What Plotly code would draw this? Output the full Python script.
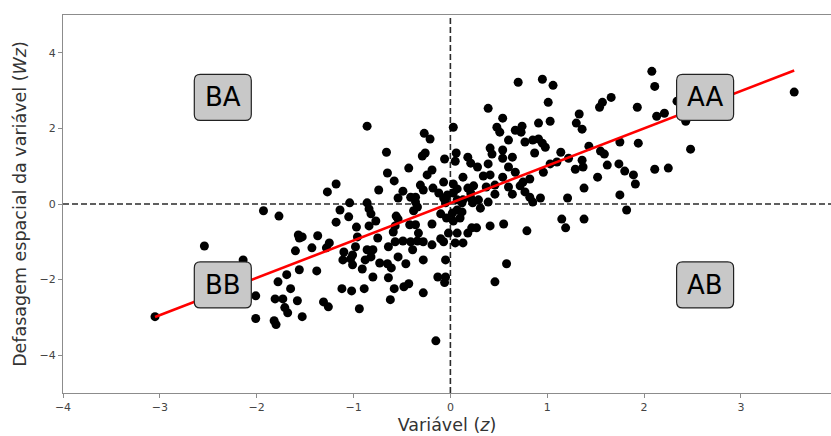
import plotly.graph_objects as go

# z values (Variável)
z = [
    -3.05, -2.54, -2.14, -2.01, -2.01, -1.93, -1.82, -1.81, -1.80, -1.78, -1.77, -1.73, -1.71, -1.69, -1.68, -1.65,
    -1.60, -1.58, -1.57, -1.56, -1.56,
    -0.86, -0.27, -0.21, 0.03, -0.66, -0.29, -0.26, -0.06, 0.06, 0.05, -0.43, -0.65, -0.19, -0.24, -0.58,
    -0.07, -1.18, -1.27, -0.74, -0.49, -0.31, -0.28, -0.18, -0.12, -0.03, -0.41, -0.36, -0.54, -0.05, -0.36,
    -0.34, -1.04, -0.86, -0.84, -0.82, -1.14, -0.38, -1.05, -0.56, -0.54, -0.57, -0.19, -1.18, -0.77, -0.42,
    -0.36, -0.84, -0.97, -0.10, -0.04, 0.02, 0.03, 0.07, 0.10, -0.59, -0.33, -0.02, 0.07, 0.18, -0.75,
    -0.57, -0.49, -0.41, -0.34, -0.28, -0.19, -0.64, -0.39, -1.10, -1.01, -0.86, -0.82, -1.11, -1.01, -1.03,
    -0.88, -0.73, -0.65, -0.61, -0.54, -0.91, -0.05, -0.80, -0.64, -0.13, -0.05, -0.06, -1.53, -1.37, -0.96,
    -0.10, -0.07, 0.05, 0.13, -1.43, -1.25, -1.28, -0.98, -0.80, -0.46, -0.28, -1.38, -1.12, -1.02, -0.89,
    -0.58, -0.48, -0.43, -0.28, -0.62, -1.31, -1.26, -0.94, -1.53, -0.15,
    0.18, 0.21, 0.28, 0.03, 0.13, 0.03, 0.07, 0.18, -0.07, -0.05, 0.07, 0.12, 0.21, 0.23, 0.31, 0.12,
    0.39, 0.34, 0.41, 0.37, 0.24, 0.21, 0.29, 0.39, 0.13,
    0.70, 0.95, 1.06, 1.01, 0.39, 0.54, 1.54, 1.57, 1.66, 0.91, 1.03, 1.33, 1.30, 1.36, 0.48, 0.51, 0.67,
    0.74, 0.73, 0.60, 0.77, 0.85, 0.91, 0.95, 0.98, 0.87, 1.14, 1.43, 1.55, 1.59, 1.75, 0.41, 0.43, 0.54,
    0.54, 0.64, 0.60, 0.67, 1.03, 1.10, 1.22, 1.36, 1.29, 1.37, 1.62, 1.74, 1.80, 1.89, 0.96, 0.54, 0.82,
    1.52, 0.46, 0.60, 0.72, 0.75, 1.38, 0.46, 0.64, 0.77, 0.82, 0.85, 0.93, 1.21, 1.75,
    2.08, 2.11, 3.55, 1.93, 2.34, 2.13, 2.21, 2.43, 1.94, 2.48, 2.11, 2.25, 1.91, 1.82,
    0.22, 0.27, 0.41, 0.55, 0.79, 1.15, 1.19, 1.38, 0.58, 0.46,
]

# Wz values (Defasagem espacial da variável)
wz = [
    -2.98, -1.11, -1.48, -2.43, -3.03, -0.18, -3.09, -2.51, -3.19, -2.06, -0.32, -2.51, -2.74, -1.87, -2.88, -2.24,
    -1.24, -2.56, -0.82, -0.90, -1.74,
    2.06, 1.87, 1.72, 2.03, 1.37, 1.27, 1.35, 1.19, 1.35, 1.13, 0.95, 0.82, 0.90, 0.77, 0.61,
    0.58, 0.53, 0.32, 0.37, 0.34, 0.50, 0.37, 0.42, 0.29, 0.24, 0.18, 0.18, 0.16, 0.13, 0.05,
    -0.08, 0.03, 0.03, -0.13, -0.26, -0.16, -0.18, -0.34, -0.32, -0.40, -0.58, -0.53, -0.48, -0.45, -0.55,
    -0.55, -0.58, -0.61, -0.26, -0.37, -0.24, -0.45, -0.16, -0.37, -0.74, -0.77, -0.77, -0.77, -0.77, -0.90,
    -1.00, -0.98, -1.00, -0.98, -1.00, -1.08, -1.13, -1.21, -1.27, -1.35, -1.21, -1.40, -1.48, -1.61, -1.45,
    -1.48, -1.56, -1.58, -1.69, -1.40, -1.72, -1.48, -1.93, -1.95, -1.93, -1.93, -2.08, -0.87, -0.84, -0.87,
    -0.92, -1.00, -1.03, -1.03, -1.16, -1.03, -1.16, -1.13, -1.21, -1.58, -1.48, -1.77, -2.24, -2.30, -2.24,
    -2.24, -2.19, -2.11, -2.35, -2.53, -2.59, -2.72, -2.77, -2.98, -3.62,
    1.24, 1.08, 0.98, 0.53, 0.71, 0.29, 0.40, 0.42, 0.16, 0.03, 0.11, 0.03, 0.16, 0.03, -0.11, -0.21,
    1.06, 0.74, 0.77, 0.45, 0.48, 0.29, 0.11, 0.05, 0.11,
    3.22, 3.30, 3.14, 2.69, 2.53, 2.27, 2.56, 2.69, 2.82, 2.14, 2.19, 2.38, 2.14, 1.98, 2.03, 1.90, 1.95,
    2.06, 1.90, 1.69, 1.64, 1.69, 1.72, 1.61, 1.50, 1.35, 1.37, 1.53, 1.40, 1.32, 1.64, 1.48, 1.32, 1.43,
    1.21, 1.24, 0.98, 0.84, 1.06, 1.11, 1.21, 1.16, 0.92, 0.98, 1.03, 1.06, 0.87, 0.77, 0.84, 0.71, 0.66,
    0.71, 0.50, 0.45, 0.48, 0.58, 0.42, 0.26, 0.26, 0.32, 0.18, 0.05, 0.16, 0.16, 0.24,
    3.51, 3.11, 2.96, 2.56, 2.72, 2.32, 2.40, 2.19, 1.61, 1.45, 0.92, 0.95, 0.53, -0.16,
    -0.63, -0.63, -0.58, -0.53, -0.71, -0.40, -0.63, -0.40, -1.58, -2.06,
]

# fitted line (slope = Moran's I, intercept)
slope = 0.988
intercept = 0.023

quadrants = ["BA", "AA", "BB", "AB"]
quad_x = [-2.35, 2.63, -2.35, 2.63]
quad_y = [2.82, 2.82, -2.14, -2.14]

x_range = [-4, 3.93]
y_range = [-5, 5]
x_ticks = [-4, -3, -2, -1, 0, 1, 2, 3]
y_ticks = [-4, -2, 0, 2, 4]

fig = go.Figure()

fig.add_trace(go.Scatter(
    x=z, y=wz, mode="markers",
    marker=dict(color="black", size=9, line=dict(width=0)),
    showlegend=False, hoverinfo="skip",
))

xmin, xmax = min(z), max(z)
fig.add_trace(go.Scatter(
    x=[xmin, xmax], y=[intercept + slope * xmin, intercept + slope * xmax],
    mode="lines", line=dict(color="#ff0000", width=2.6),
    showlegend=False, hoverinfo="skip",
))

# dashed reference lines at zero
fig.add_shape(type="line", xref="x", yref="paper", x0=0, x1=0, y0=0, y1=1,
              line=dict(color="#2b2b2b", width=1.6, dash="6px,3px"), layer="below")
fig.add_shape(type="line", xref="paper", yref="y", x0=0, x1=1, y0=0, y1=0,
              line=dict(color="#2b2b2b", width=1.6, dash="6px,3px"), layer="below")

# rounded label boxes (pixel-sized around the anchor)
hw, hh, r = 28.5, 23, 6
box_path = (
    f"M {-hw + r},{-hh} L {hw - r},{-hh} Q {hw},{-hh} {hw},{-hh + r} "
    f"L {hw},{hh - r} Q {hw},{hh} {hw - r},{hh} "
    f"L {-hw + r},{hh} Q {-hw},{hh} {-hw},{hh - r} "
    f"L {-hw},{-hh + r} Q {-hw},{-hh} {-hw + r},{-hh} Z"
)

for q, qx, qy in zip(quadrants, quad_x, quad_y):
    fig.add_shape(
        type="path", path=box_path, xref="x", yref="y",
        xsizemode="pixel", ysizemode="pixel", xanchor=qx, yanchor=qy,
        fillcolor="#c8c8c8", line=dict(color="#222222", width=1.2), layer="above",
    )
    fig.add_annotation(
        x=qx, y=qy, text=q, showarrow=False,
        font=dict(family="DejaVu Sans", size=26, color="black"),
    )

fig.update_layout(
    width=831, height=436,
    margin=dict(l=63, r=0, t=15, b=43),
    paper_bgcolor="white", plot_bgcolor="white",
    font=dict(family="DejaVu Sans", color="#444444"),
)

axis_common = dict(
    showgrid=False, zeroline=False, showline=True, mirror=True,
    linecolor="#8c8c8c", linewidth=1.2,
    ticks="outside", ticklen=4, tickcolor="#8c8c8c", tickwidth=1,
    tickfont=dict(family="DejaVu Sans", size=11, color="#444444"),
)

fig.update_xaxes(
    range=x_range, tickvals=x_ticks,
    ticktext=[str(t).replace("-", "\u2212") for t in x_ticks],
    title=dict(text="Variável (<i>z</i>)", font=dict(family="DejaVu Sans", size=17.5, color="#333333"), standoff=5),
    **axis_common,
)
fig.update_yaxes(
    range=y_range, tickvals=y_ticks,
    ticktext=[str(t).replace("-", "\u2212") for t in y_ticks],
    title=dict(text="Defasagem espacial da variável (<i>Wz</i>)", font=dict(family="DejaVu Sans", size=17.5, color="#333333"), standoff=8),
    **axis_common,
)

fig.write_html(
    "out.html",
    config={"displayModeBar": False},
    post_script="document.body.style.margin='0px';document.body.style.overflow='hidden';",
)
